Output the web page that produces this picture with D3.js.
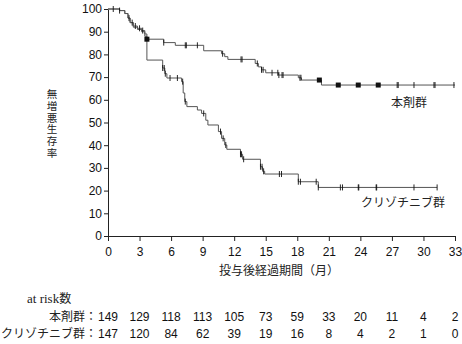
<!DOCTYPE html>
<html><head><meta charset="utf-8">
<script src="https://cdn.jsdelivr.net/npm/d3@7"></script>
<style>
body{margin:0;background:#fff;}
svg{display:block;}
.cjk{font-family:"Noto Sans CJK JP",sans-serif;}
.num{font-family:"Liberation Sans",Arial,sans-serif;}
</style></head>
<body>
<svg id="c" width="462" height="344"></svg>
<script>
const monthTicks = [0,3,6,9,12,15,18,21,24,27,30,33];
const pctTicks = [0,10,20,30,40,50,60,70,80,90,100];
const groupNames = ["本剤群","クリゾチニブ群"];
const atRiskMain = [149,129,118,113,105,73,59,33,20,11,4,2];
const atRiskCriz = [147,120,84,62,39,19,16,8,4,2,1,0];

// step points [month, survival %]
const mainSteps = [[0,100],[1.1,99.3],[1.6,98],[1.9,96],[2.1,94],[2.4,92.5],[2.8,91.5],[3.2,90.5],[3.5,89],[3.7,86.7],
  [5.3,85.2],[6.4,84],[9.1,81.6],[10.8,80.3],[11.1,79],[11.4,77.8],[14.0,76],[14.3,74.5],[14.6,73.2],[15.0,71.9],
  [16.2,70.9],[18.1,69.7],[18.4,68.7],[20.3,66.5],[33,66.5]];
const crizSteps = [[0,100],[1.1,99.3],[1.6,98],[1.9,96],[2.1,94],[2.4,92],[2.8,91],[3.2,90],[3.5,88],[3.7,77.5],
  [5.2,74],[5.4,71.5],[5.6,69.6],[7.0,68],[7.15,63],[7.3,59.2],[7.5,57],[8.5,55.5],[8.9,54],[9.3,51],[9.5,48.9],
  [10.5,46],[10.8,43],[11.1,40.1],[11.3,38.2],[12.6,36],[12.8,33.8],[14.5,30.5],[14.7,28.5],[14.9,27.3],
  [18.1,23.9],[20.0,21.4],[31.3,21.4]];
const mainCensor = [0.5,1.1,2.0,2.3,2.6,3.0,3.3,5.3,7.35,7.45,8.5,10.9,12.65,12.75,14.2,14.6,14.75,15.6,16.15,16.25,16.55,16.65,18.25,18.35,27.5,27.6,29.1,31.0,31.1,32.9];
const mainSquares = [3.7,20.1,21.9,23.8,25.7];
const crizCensor = [5.2,5.35,5.45,5.9,6.6,7.1,7.35,9.1,10.7,10.95,11.2,12.6,12.7,12.9,14.5,14.65,14.8,16.3,16.5,18.1,18.3,19.8,20.0,22.1,22.3,23.8,23.85,25.5,25.55,29.1,31.3];

const svg = d3.select("#c");
const x = d3.scaleLinear().domain([0,33]).range([108,455]);
const y = d3.scaleLinear().domain([0,100]).range([236,9]);

const yAx = svg.append("g").attr("transform","translate(108,0)")
  .call(d3.axisLeft(y).tickValues(pctTicks).tickSize(4).tickSizeOuter(0).tickPadding(2));
const xAx = svg.append("g").attr("transform","translate(0,236)")
  .call(d3.axisBottom(x).tickValues(monthTicks).tickSize(5).tickSizeOuter(0).tickPadding(6));
[yAx,xAx].forEach(g=>{
  g.selectAll("path,line").attr("stroke","#222");
  g.selectAll("text").attr("class","num").style("font-size","12px").attr("fill","#111");
});

function valAt(steps,t){let v=steps[0][1];for(const s of steps){if(s[0]<=t+1e-9)v=s[1];}return v;}

const line = d3.line().x(d=>x(d[0])).y(d=>y(d[1])).curve(d3.curveStepAfter);
[crizSteps,mainSteps].forEach(st=>{
  svg.append("path").attr("d",line(st)).attr("fill","none").attr("stroke","#555").attr("stroke-width",1);
});

function ticks(steps,times){
  svg.append("g").selectAll("line").data(times).join("line")
    .attr("x1",d=>x(d)).attr("x2",d=>x(d))
    .attr("y1",d=>y(valAt(steps,d))-3).attr("y2",d=>y(valAt(steps,d))+3)
    .attr("stroke","#111").attr("stroke-width",0.9);
}
ticks(mainSteps,mainCensor);
ticks(crizSteps,crizCensor);
svg.append("g").selectAll("rect").data(mainSquares).join("rect")
  .attr("x",d=>x(d)-2.5).attr("y",d=>y(valAt(mainSteps,d))-2.5)
  .attr("width",5).attr("height",5).attr("fill","#111");

// group labels
svg.append("text").attr("class","cjk").attr("x",409).attr("y",107).attr("text-anchor","middle")
  .style("font-size","12px").attr("fill","#222").text(groupNames[0]);
svg.append("text").attr("class","cjk").attr("x",403).attr("y",207).attr("text-anchor","middle")
  .style("font-size","12px").attr("fill","#222").text(groupNames[1]);

// y title vertical (single text element)
svg.append("text").attr("class","cjk").attr("x",52).attr("y",89)
  .style("writing-mode","vertical-rl").style("letter-spacing","1.2px")
  .style("font-size","10.5px").attr("fill","#222").text("無増悪生存率");

// x title
svg.append("text").attr("class","cjk").attr("x",279).attr("y",275).attr("text-anchor","middle")
  .style("font-size","12px").attr("fill","#222").text("投与後経過期間（月）");

// at risk
svg.append("text").attr("class","cjk").attr("x",27).attr("y",303)
  .style("font-size","12px").attr("fill","#222")
  .html('<tspan font-family="Liberation Serif" font-size="13px">at risk</tspan>数');
svg.append("text").attr("class","cjk").attr("x",97).attr("y",321).attr("text-anchor","end")
  .style("font-size","12px").attr("fill","#222").text(groupNames[0]+"：");
svg.append("text").attr("class","cjk").attr("x",97).attr("y",338).attr("text-anchor","end")
  .style("font-size","12px").attr("fill","#222").text(groupNames[1]+"：");
[[atRiskMain,321],[atRiskCriz,338]].forEach(([arr,yy])=>{
  svg.append("g").selectAll("text").data(arr).join("text").attr("class","num")
    .attr("x",(d,i)=>x(monthTicks[i])).attr("y",yy).attr("text-anchor","middle")
    .style("font-size","12px").attr("fill","#111").text(d=>d);
});
</script>
</body></html>
